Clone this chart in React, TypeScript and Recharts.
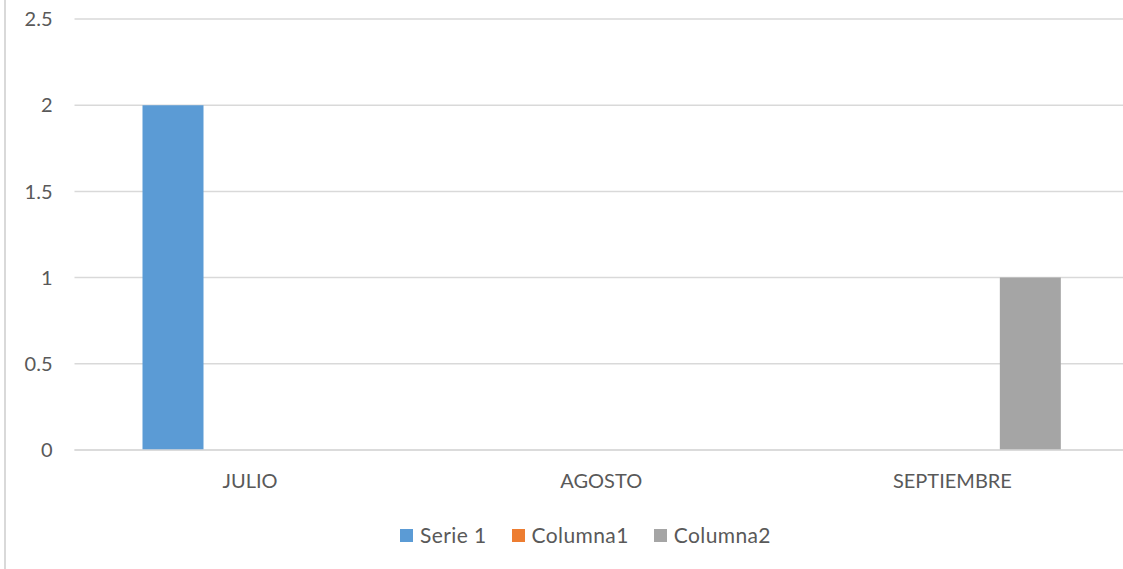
import React from 'react';
import { BarChart, Bar, XAxis, YAxis, CartesianGrid } from 'recharts';

// categories and series
const months = ['JULIO', 'AGOSTO', 'SEPTIEMBRE'];
const serie1 = [2, 0, 0];
const columna1 = [0, 0, 0];
const columna2 = [0, 0, 1];
const yTicks = [0, 0.5, 1, 1.5, 2, 2.5];

const series = [
   { key: 'serie1', name: 'Serie 1', color: '#5B9BD5', values: serie1 },
   { key: 'columna1', name: 'Columna1', color: '#ED7D31', values: columna1 },
   { key: 'columna2', name: 'Columna2', color: '#A5A5A5', values: columna2 },
];

const data = months.map((m, i) => {
   const row: any = { name: m };
   series.forEach((s) => {
      row[s.key] = s.values[i];
   });
   return row;
});

const FONT = 'Lato, "Open Sans", sans-serif';
const TEXT = '#595959';
const GRID = '#D9D9D9';

const App: React.FC = () => {
   return (
      <div
         style={{
            position: 'absolute',
            left: 0,
            top: 0,
            width: 1123,
            height: 569,
            overflow: 'hidden',
            background: '#fff',
            fontFamily: FONT,
         }}
      >
         {/* chart area border, only the left side is visible */}
         <div style={{ position: 'absolute', left: 4, top: 0, width: 2, height: 569, background: GRID, zIndex: 2 }} />

         <BarChart
            width={1130}
            height={569}
            data={data}
            margin={{ top: 19, right: 2, left: 0, bottom: 79 }}
            barSize={61}
            barGap={16.5}
         >
            <CartesianGrid vertical={false} stroke={GRID} strokeWidth={1.5} />
            <XAxis
               dataKey="name"
               height={40}
               axisLine={{ stroke: GRID, strokeWidth: 1.5 }}
               tickLine={false}
               tickSize={0}
               tickMargin={24}
               tick={{ fill: TEXT, fontSize: 20, fontFamily: FONT }}
            />
            <YAxis
               width={74.5}
               domain={[0, 2.5]}
               ticks={yTicks}
               axisLine={false}
               tickLine={false}
               tickSize={0}
               tickMargin={22}
               tick={{ fill: TEXT, fontSize: 20, fontFamily: FONT }}
            />
            {series.map((s) => (
               <Bar key={s.key} dataKey={s.key} name={s.name} fill={s.color} isAnimationActive={false} />
            ))}
         </BarChart>

         {/* legend */}
         <div
            style={{
               position: 'absolute',
               left: 400,
               top: 523,
               display: 'flex',
               alignItems: 'center',
               height: 24,
            }}
         >
            {series.map((s, i) => (
               <div key={s.key} style={{ display: 'flex', alignItems: 'center', marginRight: i < series.length - 1 ? 25 : 0 }}>
                  <span style={{ width: 13, height: 13, background: s.color, display: 'inline-block', marginRight: 7 }} />
                  <span style={{ fontSize: 21, letterSpacing: 0.4, color: TEXT, lineHeight: '24px' }}>{s.name}</span>
               </div>
            ))}
         </div>
      </div>
   );
};

export default App;
